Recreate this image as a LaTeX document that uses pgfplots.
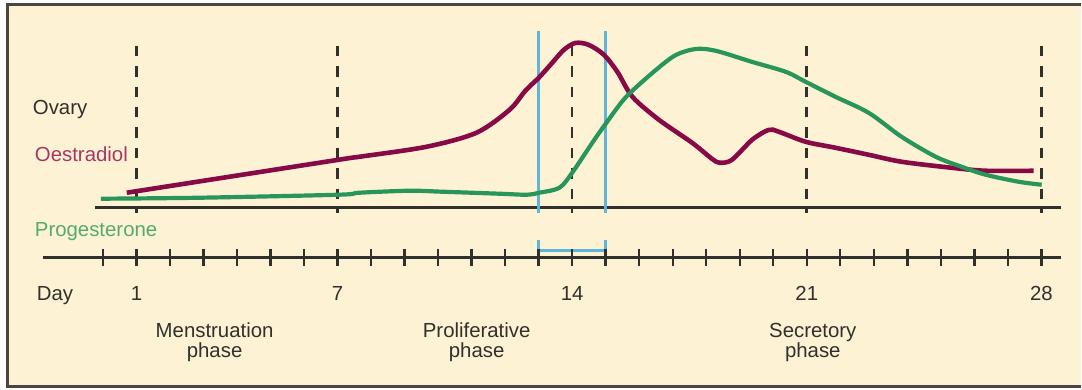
\documentclass[border=0pt]{standalone}
\usepackage{pgfplots}
\pgfplotsset{compat=1.18}
\usepackage{fontspec}
\setmainfont{Liberation Sans}

\definecolor{paper}{RGB}{253,242,212}
\definecolor{frame}{RGB}{75,70,65}
\definecolor{ink}{RGB}{50,48,45}
\definecolor{oestr}{RGB}{135,10,70}
\definecolor{oestrtxt}{RGB}{165,55,100}
\definecolor{prog}{RGB}{40,150,90}
\definecolor{progtxt}{RGB}{85,170,115}
\definecolor{lh}{RGB}{95,180,220}

\begin{document}
\begin{tikzpicture}[lbl/.style={font=\fontsize{10.2}{10}\selectfont, inner sep=0pt, outer sep=0pt}]
\begin{axis}[
  scale only axis,
  width=541pt, height=195pt,
  xmin=-3.073, xmax=29.168,
  ymin=-182, ymax=208,
  hide axis, clip=false,
]
% page and frame
\fill[white] (-3.073,-182) rectangle (29.168,208);
\fill[paper] (-2.85,-179) rectangle (29.168,203);
\draw[frame, line width=1.5pt] (29.168,203) -- (-2.85,203) -- (-2.85,-179) -- (29.168,-179);

% day markers
\addplot[ink, line width=1.3pt, dash pattern=on 5.2pt off 5pt] coordinates {(1,162) (1,-5)};
\addplot[ink, line width=1.3pt, dash pattern=on 5.2pt off 5pt] coordinates {(7,162) (7,-5)};
\addplot[ink, line width=1.3pt, dash pattern=on 5.2pt off 5pt] coordinates {(14,162) (14,-5)};
\addplot[ink, line width=1.3pt, dash pattern=on 5.2pt off 5pt] coordinates {(21,162) (21,-5)};
\addplot[ink, line width=1.3pt, dash pattern=on 5.2pt off 5pt] coordinates {(28,162) (28,-5)};

% ovary baseline
\addplot[ink, line width=1.3pt] coordinates {(-0.24,0) (28.6,0)};

% ovulation window
\addplot[lh, line width=1.5pt] coordinates {(13,177) (13,-5)};
\addplot[lh, line width=1.5pt] coordinates {(15,177) (15,-5)};

% oestradiol
\addplot[oestr, line width=2.3pt, smooth] coordinates {
  (0.71,15) (7.03,48) (7.65,51) (9.65,61) (11.14,75) (12.13,98) (12.6,117)
  (13.0,130) (13.35,143) (13.75,158) (14.1,165) (14.5,163) (14.95,153)
  (15.35,136) (15.8,111) (16.59,88) (17.58,65) (18.17,49) (18.4,45)
  (18.77,48) (19.37,68) (19.87,78) (20.17,76) (20.97,66) (21.86,60)
  (22.85,53) (23.83,46) (25.32,40) (26.34,37) (27.77,37)
};

% progesterone
\addplot[prog, line width=2.1pt, smooth] coordinates {
  (-0.06,9) (2.9,10) (7.03,13) (7.65,15) (9.14,17) (10.13,16) (11.83,14)
  (12.64,13) (13.02,15) (13.62,20) (14.0,35) (14.6,65) (15.02,85)
  (15.61,111) (16.5,138) (17.1,153) (17.7,159) (18.3,157) (19.37,146)
  (20.38,136) (20.97,126) (21.86,111) (22.85,95) (23.83,71) (24.85,51)
  (25.62,41) (26.34,33) (27.32,26) (28.01,23)
};

% time axis
\addplot[ink, line width=1.3pt] coordinates {(-1.79,-49.7) (28.58,-49.7)};
\addplot[only marks, mark=|, mark size=4.2pt, mark options={ink, line width=1.2pt}] coordinates {
  (0,-49.7) (1,-49.7) (2,-49.7) (3,-49.7) (4,-49.7) (5,-49.7) (6,-49.7)
  (7,-49.7) (8,-49.7) (9,-49.7) (10,-49.7) (11,-49.7) (12,-49.7) (13,-49.7)
  (14,-49.7) (15,-49.7) (16,-49.7) (17,-49.7) (18,-49.7) (19,-49.7) (20,-49.7)
  (21,-49.7) (22,-49.7) (23,-49.7) (24,-49.7) (25,-49.7) (26,-49.7) (27,-49.7)
  (28,-49.7)
};
% ovulation bracket
\addplot[lh, line width=1.5pt] coordinates {(13,-42.7) (15,-42.7)};
\addplot[lh, line width=1.5pt] coordinates {(13,-32) (13,-54)};
\addplot[lh, line width=1.5pt] coordinates {(15,-32) (15,-54)};

% labels
\node[lbl, anchor=base west, text=ink] at (axis cs:-2.09,93.5) {Ovary};
\node[lbl, anchor=base west, text=oestrtxt] at (axis cs:-2.03,46.5) {Oestradiol};
\node[lbl, anchor=base west, text=progtxt] at (axis cs:-2.03,-28.7) {Progesterone};
\node[lbl, anchor=base west, text=ink] at (axis cs:-1.97,-92.5) {Day};
\node[lbl, anchor=base, text=ink] at (axis cs:1,-92.5) {1};
\node[lbl, anchor=base, text=ink] at (axis cs:7,-92.5) {7};
\node[lbl, anchor=base, text=ink] at (axis cs:14,-92.5) {14};
\node[lbl, anchor=base, text=ink] at (axis cs:21,-92.5) {21};
\node[lbl, anchor=base, text=ink] at (axis cs:28,-92.5) {28};

\node[lbl, anchor=base, text=ink] at (axis cs:3.33,-130.3) {Menstruation};
\node[lbl, anchor=base, text=ink] at (axis cs:3.33,-150.3) {phase};
\node[lbl, anchor=base, text=ink] at (axis cs:11.15,-130.3) {Proliferative};
\node[lbl, anchor=base, text=ink] at (axis cs:11.15,-150.3) {phase};
\node[lbl, anchor=base, text=ink] at (axis cs:21.18,-130.3) {Secretory};
\node[lbl, anchor=base, text=ink] at (axis cs:21.18,-150.3) {phase};
\end{axis}
\end{tikzpicture}
\end{document}
